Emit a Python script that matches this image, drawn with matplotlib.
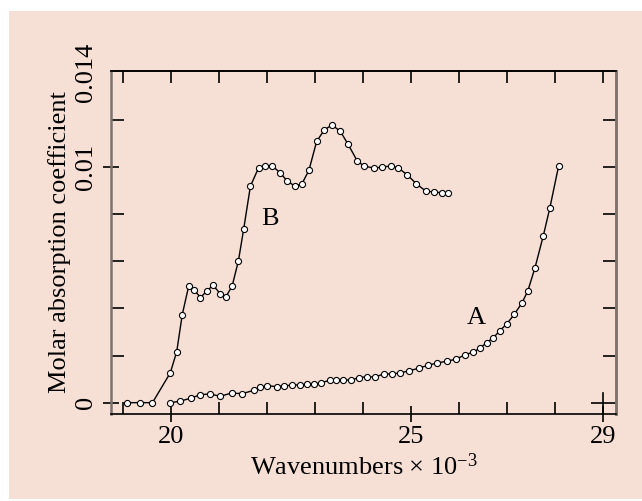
import matplotlib
matplotlib.use("Agg")
import matplotlib.pyplot as plt
from matplotlib.patches import Rectangle

plt.rcParams['font.family'] = ['Liberation Serif', 'DejaVu Serif']
plt.rcParams['mathtext.fontset'] = 'custom'
plt.rcParams['mathtext.rm'] = 'Liberation Serif'
plt.rcParams['mathtext.it'] = 'Liberation Serif:italic'

# curve B
b_x = [19.08, 19.35, 19.62, 19.99, 20.125, 20.24, 20.375, 20.49, 20.62, 20.75,
       20.88, 21.03, 21.15, 21.28, 21.41, 21.52, 21.66, 21.83, 21.96, 22.12,
       22.28, 22.42, 22.58, 22.73, 22.88, 23.04, 23.20, 23.36, 23.53, 23.69,
       23.89, 24.03, 24.23, 24.40, 24.58, 24.74, 24.93, 25.12, 25.31, 25.49,
       25.65, 25.77]
b_y = [0.0, 0.0, 0.0, 0.00126, 0.00216, 0.00373, 0.00495, 0.00478, 0.00446, 0.00473,
       0.00498, 0.00463, 0.00449, 0.00495, 0.00601, 0.00736, 0.00918, 0.00996, 0.01006, 0.01004,
       0.00975, 0.00942, 0.00919, 0.00927, 0.00986, 0.01108, 0.01157, 0.01178, 0.01152, 0.01098,
       0.01024, 0.01004, 0.00995, 0.00999, 0.01004, 0.00996, 0.00966, 0.00928, 0.00898, 0.00893,
       0.00891, 0.00888]

# curve A
a_x = [19.99, 20.19, 20.42, 20.62, 20.82, 21.03, 21.27, 21.49, 21.74, 21.87,
       22.01, 22.21, 22.37, 22.53, 22.69, 22.83, 22.99, 23.14, 23.32, 23.45,
       23.58, 23.75, 23.92, 24.09, 24.26, 24.44, 24.61, 24.78, 24.96, 25.17,
       25.36, 25.55, 25.75, 25.94, 26.14, 26.30, 26.45, 26.58, 26.72, 26.85,
       27.00, 27.16, 27.32, 27.44, 27.59, 27.76, 27.90, 28.08]
a_y = [0.0, 0.00006, 0.00019, 0.00034, 0.00037, 0.00027, 0.00041, 0.00038, 0.00053, 0.00065,
       0.00072, 0.00068, 0.00072, 0.00074, 0.00076, 0.00078, 0.00078, 0.00085, 0.00095, 0.00098,
       0.00098, 0.00095, 0.00106, 0.0011, 0.00109, 0.00122, 0.00122, 0.00126, 0.00135, 0.00146,
       0.00159, 0.00168, 0.00176, 0.00184, 0.00204, 0.00214, 0.00232, 0.00255, 0.00275, 0.00304,
       0.00334, 0.00375, 0.00424, 0.00474, 0.00573, 0.00706, 0.00827, 0.01003]

x_major = [20, 25, 29]
x_minor = [19, 21, 22, 23, 24, 26, 27, 28]
x_top = list(range(19, 30))
y_major = [0, 0.01, 0.014]
y_major_labels = ["0", "0.01", "0.014"]
y_minor = [0.002, 0.004, 0.006, 0.008, 0.012]
y_right = [0.002, 0.004, 0.006, 0.008, 0.01, 0.012]

bg = '#f6dfd5'
gray = '#7d726d'
fs = 19

fig = plt.figure(figsize=(6.42, 5.01), dpi=100, facecolor='white')
fig.add_artist(Rectangle((0.014, 0.0034), 0.986, 0.9746, transform=fig.transFigure,
                         facecolor=bg, edgecolor='none', zorder=-10))
ax = fig.add_axes([0.1729, 0.1737, 0.7866, 0.6846])
ax.set_facecolor('none')

style = dict(color='black', lw=1.0, marker='o', ms=4.4, mfc='white', mec='black', mew=0.8)
ax.plot(b_x, b_y, **style)
ax.plot(a_x, a_y, **style)

ax.text(22.07, 0.0078, 'B', ha='center', va='center', fontsize=fs)
ax.text(26.36, 0.0036, 'A', ha='center', va='center', fontsize=fs)

ax.set_xlim(18.756, 29.277)
ax.set_ylim(-0.00048, 0.01407)

ax.set_xticks(x_major)
ax.set_xticklabels([str(v) for v in x_major])
ax.set_xticks(x_minor, minor=True)
ax.set_yticks(y_major)
ax.set_yticklabels(y_major_labels)
ax.set_yticks(y_minor, minor=True)

ax.tick_params(axis='x', which='major', direction='inout', length=11.5, width=1.2,
               labelsize=fs, pad=3.0, top=False)
ax.tick_params(axis='x', which='minor', direction='in', length=9, width=1.2, top=False)
ax.tick_params(axis='y', which='major', direction='inout', length=12, width=1.2,
               labelsize=fs, pad=4.0, right=False, labelrotation=90)
ax.tick_params(axis='y', which='minor', direction='in', length=9.4, width=1.2, right=False)
for lab in ax.get_yticklabels():
    lab.set_va('center')
ax.yaxis.get_major_ticks()[2].tick1line.set_visible(False)

# top and right ticks point inward
top = ax.secondary_xaxis('top')
top.set_xticks(x_top)
top.tick_params(direction='in', length=8.5, width=1.2, labeltop=False)
top.spines['top'].set_linewidth(1.2)

right = ax.secondary_yaxis('right')
right.set_yticks([0])
right.set_yticks(y_right, minor=True)
right.tick_params(which='major', direction='in', length=18, width=1.2, labelright=False)
right.tick_params(which='minor', direction='in', length=9.4, width=1.2)
right.spines['right'].set_color(gray)
right.spines['right'].set_linewidth(1.8)

# the 29 tick reaches further up
ax.axvline(29, ymin=0, ymax=0.061, color='black', lw=1.2)

ax.spines['left'].set_color(gray)
ax.spines['left'].set_linewidth(1.8)
ax.spines['right'].set_color(gray)
ax.spines['right'].set_linewidth(1.8)
ax.spines['top'].set_linewidth(1.2)
ax.spines['bottom'].set_linewidth(1.2)

ax.set_xlabel(r"Wavenumbers × 10$^{-3}$", fontsize=fs)
ax.set_ylabel("Molar absorption coefficient", fontsize=fs)
ax.xaxis.set_label_coords(0.5, -0.115)
ax.yaxis.set_label_coords(-0.08, 0.5)

fig.savefig("out.png", dpi=100, facecolor=fig.get_facecolor())
